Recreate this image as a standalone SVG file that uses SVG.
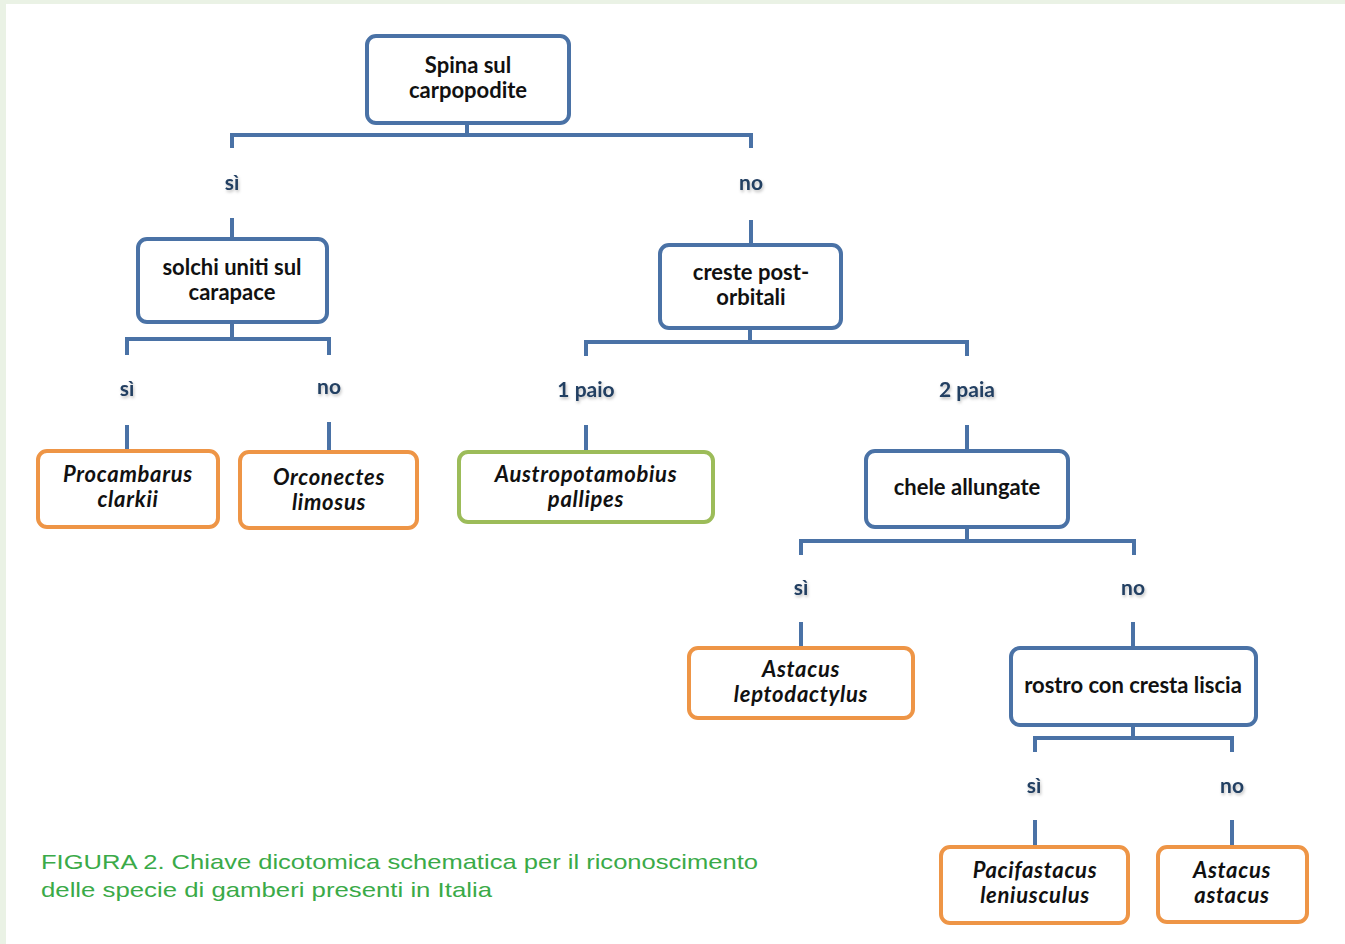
<svg xmlns="http://www.w3.org/2000/svg" width="1345" height="944" viewBox="0 0 1345 944">
<defs>
<style>
.blue{fill:#fff;stroke:#4a72a6;stroke-width:4}
.orange{fill:#fff;stroke:#ee9546;stroke-width:4}
.green{fill:#fff;stroke:#9cbc59;stroke-width:4}
.t{font-family:Lato,"Open Sans",sans-serif;font-weight:bold;font-size:22px;fill:#111;text-anchor:middle}
.i{font-style:italic;letter-spacing:0.7px}
.lab{font-family:Lato,"Open Sans",sans-serif;font-weight:bold;font-size:21px;fill:#243f62;text-anchor:middle}
.c{fill:none;stroke:#4a72a6;stroke-width:4}
.cap{font-family:"Liberation Sans",Arial,sans-serif;font-size:21px;fill:#3aaa48}
</style>
<filter id="sh" x="-20%" y="-20%" width="140%" height="160%">
<feDropShadow dx="1" dy="2" stdDeviation="1.5" flood-color="#000" flood-opacity="0.25"/>
</filter>
</defs>
<rect width="1345" height="944" fill="#fff"/>
<rect x="0" y="0" width="1345" height="4" fill="#eaf2e5"/>
<rect x="0" y="0" width="6" height="944" fill="#eaf2e5"/>

<g id="connectors">
<path class="c" d="M467 123V135M232 148V135H751V148"/>
<path class="c" d="M232 218V240M751 220V245"/>
<path class="c" d="M232 322V339M127 355V339H329V355"/>
<path class="c" d="M127 425V449M329 422V451"/>
<path class="c" d="M750 328V342M586 356V342H967V356"/>
<path class="c" d="M586 425V451M967 425V451"/>
<path class="c" d="M967 527V541M801 555V541H1134V555"/>
<path class="c" d="M801 622V648M1133 622V648"/>
<path class="c" d="M1133 725V738M1035 752V738H1232V752"/>
<path class="c" d="M1035 820V847M1232 820V847"/>
</g>

<g id="labels" filter="url(#sh)">
<text class="lab" x="232" y="190">sì</text>
<text class="lab" x="751" y="190">no</text>
<text class="lab" x="127" y="396">sì</text>
<text class="lab" x="329" y="394">no</text>
<text class="lab" x="586" y="397">1 paio</text>
<text class="lab" x="967" y="397">2 paia</text>
<text class="lab" x="801" y="595">sì</text>
<text class="lab" x="1133" y="595">no</text>
<text class="lab" x="1034" y="793">sì</text>
<text class="lab" x="1232" y="793">no</text>
</g>

<g id="n-root"><rect class="blue" x="367" y="36" width="202" height="87" rx="9"/>
<text class="t" x="468" y="73">Spina sul</text><text class="t" x="468" y="98">carpopodite</text></g>
<g id="n-solchi"><rect class="blue" x="138" y="239" width="189" height="83" rx="9"/>
<text class="t" x="232" y="275">solchi uniti sul</text><text class="t" x="232" y="300">carapace</text></g>
<g id="n-creste"><rect class="blue" x="660" y="245" width="181" height="83" rx="9"/>
<text class="t" x="751" y="280">creste post-</text><text class="t" x="751" y="305">orbitali</text></g>
<g id="n-procambarus"><rect class="orange" x="38" y="451" width="180" height="76" rx="9"/>
<text class="t i" x="128" y="482">Procambarus</text><text class="t i" x="128" y="507">clarkii</text></g>
<g id="n-orconectes"><rect class="orange" x="240" y="452" width="177" height="76" rx="9"/>
<text class="t i" x="329" y="485">Orconectes</text><text class="t i" x="329" y="510">limosus</text></g>
<g id="n-austro"><rect class="green" x="459" y="452" width="254" height="70" rx="9"/>
<text class="t i" x="586" y="482">Austropotamobius</text><text class="t i" x="586" y="507">pallipes</text></g>
<g id="n-chele"><rect class="blue" x="866" y="451" width="202" height="76" rx="9"/>
<text class="t" x="967" y="495">chele allungate</text></g>
<g id="n-leptodactylus"><rect class="orange" x="689" y="648" width="224" height="70" rx="9"/>
<text class="t i" x="801" y="677">Astacus</text><text class="t i" x="801" y="702">leptodactylus</text></g>
<g id="n-rostro"><rect class="blue" x="1011" y="648" width="245" height="77" rx="9"/>
<text class="t" x="1133" y="693">rostro con cresta liscia</text></g>
<g id="n-pacifastacus"><rect class="orange" x="941" y="847" width="187" height="76" rx="9"/>
<text class="t i" x="1035" y="878">Pacifastacus</text><text class="t i" x="1035" y="903">leniusculus</text></g>
<g id="n-astacus"><rect class="orange" x="1158" y="847" width="149" height="75" rx="9"/>
<text class="t i" x="1232" y="878">Astacus</text><text class="t i" x="1232" y="903">astacus</text></g>

<g id="caption">
<text class="cap" x="41" y="869" textLength="717" lengthAdjust="spacingAndGlyphs">FIGURA 2. Chiave dicotomica schematica per il riconoscimento</text>
<text class="cap" x="41" y="897" textLength="451" lengthAdjust="spacingAndGlyphs">delle specie di gamberi presenti in Italia</text>
</g>
</svg>
